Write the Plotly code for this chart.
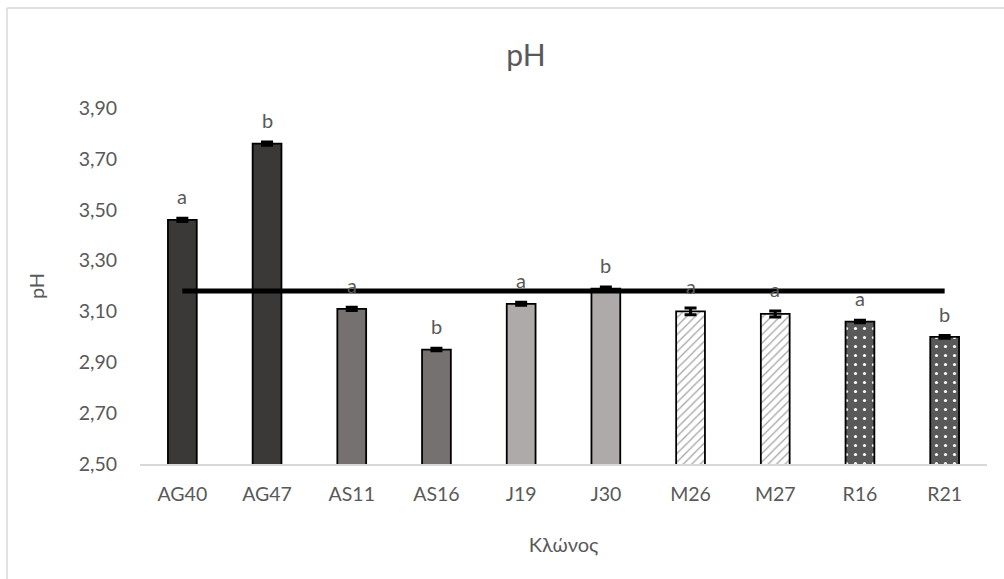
import plotly.graph_objects as go

# Clones and measured pH (mean ± error)
clones = ["AG40", "AG47", "AS11", "AS16", "J19", "J30", "M26", "M27", "R16", "R21"]
ph_values = [3.46, 3.76, 3.11, 2.95, 3.13, 3.19, 3.10, 3.09, 3.06, 3.00]
ph_errors = [0.006, 0.006, 0.006, 0.005, 0.006, 0.006, 0.013, 0.012, 0.005, 0.005]
group_letters = ["a", "b", "a", "b", "a", "b", "a", "a", "a", "b"]
overall_mean = [3.18, 3.18]

y_ticks = [2.50, 2.70, 2.90, 3.10, 3.30, 3.50, 3.70, 3.90]

# Fill style per clone family: (background, pattern shape, pattern colour)
family_styles = {
    "AG": ("#3b3838", "", "#3b3838"),
    "AS": ("#767171", "", "#767171"),
    "J": ("#aeaaaa", "", "#aeaaaa"),
    "M": ("#ffffff", "/", "#a6a6a6"),
    "R": ("#595959", ".", "#ffffff"),
}

W, H = 1004, 579
L, R, T, B = 140, 17, 108, 115
pw, ph = W - L - R, H - T - B

text_color = "#595959"
font_family = "Lato, 'Open Sans', sans-serif"


def family_of(name):
    return name.rstrip("0123456789")


fig = go.Figure()

for fam, (bg, shape, fg) in family_styles.items():
    idx = [i for i, c in enumerate(clones) if family_of(c) == fam]
    pattern = dict(shape=shape)
    if shape:
        pattern.update(fgcolor=fg, bgcolor=bg, fillmode="replace",
                       size=9 if shape == "." else 6,
                       solidity=0.1 if shape == "." else 0.22)
    fig.add_trace(go.Bar(
        x=[clones[i] for i in idx],
        y=[ph_values[i] for i in idx],
        marker=dict(color=bg, line=dict(color="#000000", width=1.8), pattern=pattern),
        error_y=dict(type="data", array=[ph_errors[i] for i in idx], visible=True,
                     color="#000000", thickness=3, width=6),
        showlegend=False,
        hoverinfo="x+y",
    ))

# Overall mean reference line
fig.add_trace(go.Scatter(
    x=[clones[0], clones[-1]],
    y=overall_mean,
    mode="lines",
    line=dict(color="#000000", width=5),
    showlegend=False,
    hoverinfo="skip",
))

# Significance letters above the bars
for c, v, e, g in zip(clones, ph_values, ph_errors, group_letters):
    fig.add_annotation(x=c, y=v + e, text=g, showarrow=False,
                       yanchor="bottom", yshift=8,
                       font=dict(size=20, color=text_color, family=font_family))

# Chart-area border (top and left edges)
def px_x(px):
    return (px - L) / pw


def px_y(py):
    return (H - B - py) / ph


fig.add_shape(type="line", xref="paper", yref="paper",
              x0=px_x(7), x1=px_x(W + 5), y0=px_y(8), y1=px_y(8),
              line=dict(color="#d9d9d9", width=1.5))
fig.add_shape(type="line", xref="paper", yref="paper",
              x0=px_x(7), x1=px_x(7), y0=px_y(8), y1=px_y(H + 5),
              line=dict(color="#d9d9d9", width=1.5))

fig.update_layout(
    width=W, height=H,
    margin=dict(l=L, r=R, t=T, b=B),
    paper_bgcolor="#ffffff",
    plot_bgcolor="#ffffff",
    separators=",.",
    barmode="overlay",
    bargap=0.66,
    font=dict(family=font_family, color=text_color, size=19),
    title=dict(text="pH", x=526 / W, xanchor="center",
               y=1 - 55 / H, yanchor="middle",
               font=dict(size=30, color=text_color, family=font_family)),
    xaxis=dict(
        categoryorder="array", categoryarray=clones,
        showline=True, linecolor="#d9d9d9", linewidth=1.5,
        showgrid=False, ticks="", ticklabelstandoff=12,
        tickfont=dict(size=19.5, color=text_color),
        title=dict(text="Κλώνος", standoff=34, font=dict(size=20, color=text_color)),
    ),
    yaxis=dict(
        range=[2.50, 3.90], tickvals=y_ticks, tickformat=".2f",
        showline=False, showgrid=False, zeroline=False, ticks="",
        ticklabelstandoff=22,
        tickfont=dict(size=19.5, color=text_color),
        title=dict(text="pH", standoff=28, font=dict(size=20, color=text_color)),
    ),
)

fig.write_html("out.html")
